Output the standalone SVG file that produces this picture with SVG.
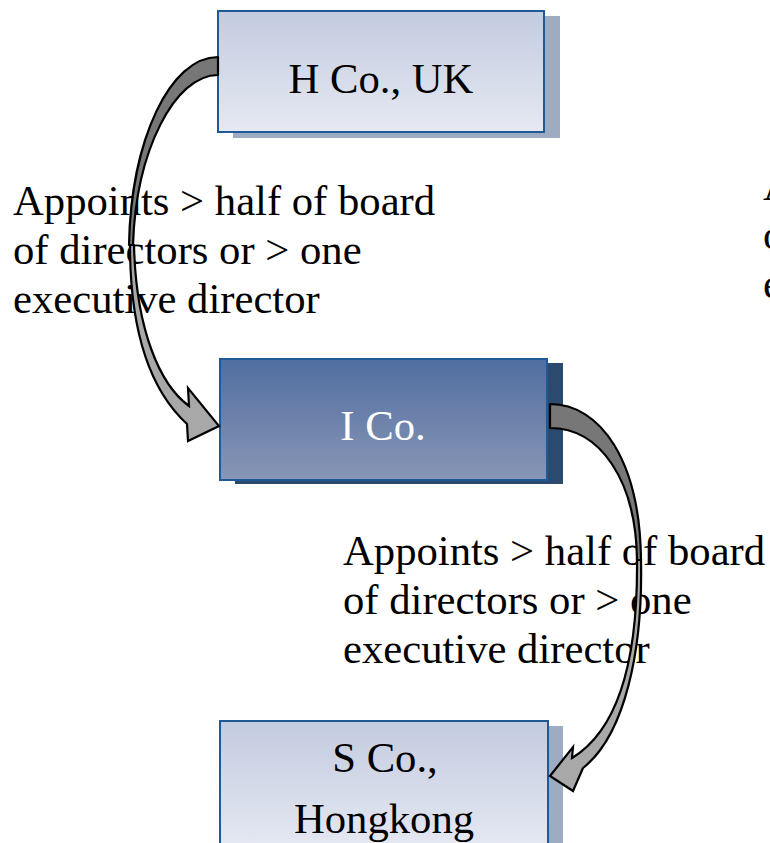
<svg xmlns="http://www.w3.org/2000/svg" width="770" height="843" viewBox="0 0 770 843">
  <defs>
    <linearGradient id="gLight" x1="0" y1="0" x2="0" y2="1">
      <stop offset="0" stop-color="#c3cbdf"/>
      <stop offset="1" stop-color="#e6e9f3"/>
    </linearGradient>
    <linearGradient id="gDark" x1="0" y1="0" x2="0" y2="1">
      <stop offset="0" stop-color="#506ea1"/>
      <stop offset="1" stop-color="#8996b5"/>
    </linearGradient>
  </defs>
  <style>
    .t { font-family: "Liberation Serif", "Times New Roman", serif; font-size: 42.67px; fill: #000; }
    .tw { fill: #ffffff; }
    .box { stroke: #1f5a96; stroke-width: 2; }
    .shL { fill: #9eacc2; }
    .shD { fill: #2c4a6e; }
    .back { fill: #777777; stroke: #000; stroke-width: 2.2; stroke-linejoin: round; }
    .front { fill: #a8a8a8; stroke: #000; stroke-width: 2.2; stroke-linejoin: miter; }
  </style>

  <g id="node-h">
    <rect class="shL" x="233" y="16" width="327" height="122"/>
    <rect class="box" x="218" y="11" width="326" height="121" fill="url(#gLight)"/>
    <text class="t" x="381" y="93" text-anchor="middle">H Co., UK</text>
  </g>

  <g id="node-i">
    <rect class="shD" x="235" y="363" width="328" height="121"/>
    <rect class="box" x="220" y="359" width="327" height="121" fill="url(#gDark)"/>
    <text class="t tw" x="383" y="440" text-anchor="middle">I Co.</text>
  </g>

  <g id="node-s">
    <rect class="shL" x="235" y="726" width="328" height="125"/>
    <rect class="box" x="220" y="721" width="328" height="130" fill="url(#gLight)"/>
    <text class="t" x="385" y="772" text-anchor="middle">S Co.,</text>
    <text class="t" x="384" y="833" text-anchor="middle">Hongkong</text>
  </g>

  <g id="labels">
    <text class="t" x="13" y="215">Appoints &gt; half of board</text>
    <text class="t" x="13" y="264">of directors or &gt; one</text>
    <text class="t" x="13" y="313">executive director</text>

    <text class="t" x="343" y="565">Appoints &gt; half of board</text>
    <text class="t" x="343" y="614">of directors or &gt; one</text>
    <text class="t" x="343" y="663">executive director</text>

    <text class="t" x="763" y="200">Appoints &gt; half of board</text>
    <text class="t" x="763" y="249">of directors or &gt; one</text>
    <text class="t" x="763" y="298">executive director</text>
  </g>

  <g id="connectors">
    <!-- H Co. -> I Co. -->
    <path class="back" d="M218,57 C170,57 131,140 129,245 L133,245 C136,150 175,75 218,75 Z"/>
    <path class="front" d="M130,245 C130,330 150,390 187,424 L188,441 L219,426 L188,388 L189,406 C160,385 136,330 134,245 Z"/>
    <!-- I Co. -> S Co. -->
    <path class="back" d="M550,404 C600,404 640,460 641,560 L637,560 C636,480 600,428 550,428 Z"/>
    <path class="front" d="M641,560 C643,650 625,735 583,768 L573,791 L550,776 L573,747 L572,758 C618,730 638,660 637,560 Z"/>
  </g>
</svg>
